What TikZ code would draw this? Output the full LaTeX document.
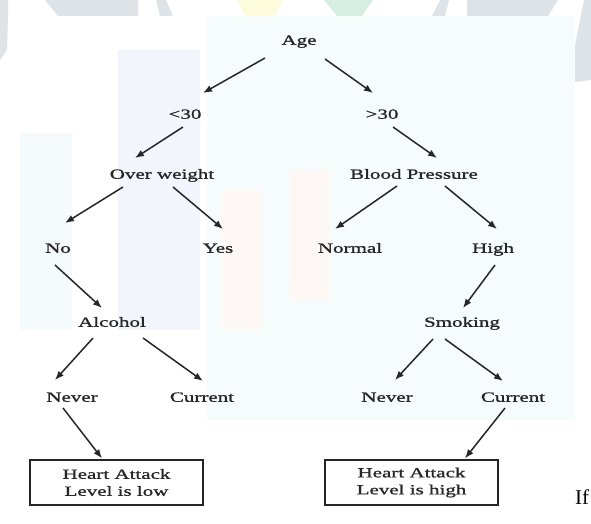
\documentclass[tikz,border=0pt]{standalone}
\usepackage{fontspec}
\setmainfont{Liberation Serif}[FakeStretch=1.5,FakeBold=1.2]
\newfontfamily\plainfont{Liberation Serif}
\usetikzlibrary{arrows.meta}
\definecolor{ink}{HTML}{262626}
\definecolor{wmgray}{HTML}{DDE3E6}
\definecolor{wmyellow}{HTML}{FCFCDC}
\definecolor{wmgreen}{HTML}{D6EEE2}
\definecolor{wmcyan}{HTML}{F6FCFC}
\definecolor{wmlav}{HTML}{F3F5FC}
\definecolor{wmpink}{HTML}{FDF7F6}
\tikzset{
  lbl/.style={inner sep=0pt, text height=9.5pt, text depth=0pt, text=ink,
    font=\fontsize{14}{17}\selectfont},
  arr/.style={draw=ink, line width=1.5pt, -{Latex[length=9pt,width=7pt]}},
  outcome/.style={draw=ink, line width=1.2pt, minimum width=173pt, minimum height=45pt,
    inner sep=0pt, align=center, text=ink, font=\fontsize{14}{17}\selectfont}
}
\begin{document}
\begin{tikzpicture}[x=1pt,y=-1pt]
\useasboundingbox (0,0) rectangle (591,524);
% faint watermark background
\fill[wmcyan] (207,16) rectangle (575,420);
\fill[wmlav] (118,50) rectangle (200,330);
\fill[wmcyan!70!wmlav] (20,133) rectangle (72,330);
\fill[wmpink] (222,190) rectangle (262,330);
\fill[wmpink] (290,170) rectangle (330,300);
\fill[wmgray] (45,0) -- (138,0) -- (138,16) -- (58,16) -- cycle;
\fill[wmgray] (156,0) -- (166,0) -- (173,16) -- (160,16) -- cycle;
\fill[wmyellow] (237,0) -- (283,0) -- (275,16) -- (245,16) -- cycle;
\fill[wmgreen] (324,0) -- (373,0) -- (362,16) -- (337,16) -- cycle;
\fill[wmgray] (440,0) -- (449,0) -- (445,16) -- (432,16) -- cycle;
\fill[wmgray] (467,0) -- (558,0) -- (548,16) -- (467,16) -- cycle;
\fill[wmgray] (0,0) -- (8,0) -- (8,16) -- (7,50) -- (0,60) -- cycle;
\fill[wmgray] (584,0) -- (591,0) -- (591,80) -- (575,82) -- (575,45) -- cycle;

% nodes
\node[lbl] (age) at (299,40) {Age};
\node[lbl] (lt) at (185,114) {<30};
\node[lbl] (gt) at (382,114) {>30};
\node[lbl] (ow) at (162,174) {Over weight};
\node[lbl] (bp) at (414,174) {Blood Pressure};
\node[lbl] (no) at (58,248) {No};
\node[lbl] (yes) at (218,248) {Yes};
\node[lbl] (normal) at (350,248) {Normal};
\node[lbl] (high) at (493,248) {High};
\node[lbl] (alc) at (112,322) {Alcohol};
\node[lbl] (smk) at (462,322) {Smoking};
\node[lbl] (nevl) at (72,397) {Never};
\node[lbl] (curl) at (202,397) {Current};
\node[lbl] (nevr) at (387,397) {Never};
\node[lbl] (curr) at (513,397) {Current};
\node[outcome] (boxl) at (116.5,482.5) {Heart Attack\\Level is low};
\node[outcome] (boxr) at (411.5,482.5) {Heart Attack\\Level is high};
\node[inner sep=0pt, anchor=base west, font=\plainfont\fontsize{21}{24}\selectfont] (iff) at (575,504) {If};

% connectors
\draw[arr] ([shift={(-34,18)}]age.center) -- ([shift={(18,-21)}]lt.center);
\draw[arr] ([shift={(26,19)}]age.center) -- ([shift={(-9,-21)}]gt.center);
\draw[arr] ([shift={(-2,13)}]lt.center) -- ([shift={(-27,-16)}]ow.center);
\draw[arr] ([shift={(11,13)}]gt.center) -- ([shift={(23,-16)}]bp.center);
\draw[arr] ([shift={(-39,13)}]ow.center) -- ([shift={(7,-25)}]no.center);
\draw[arr] ([shift={(11,13)}]ow.center) -- ([shift={(5,-19)}]yes.center);
\draw[arr] ([shift={(-17,12)}]bp.center) -- ([shift={(-15,-19)}]normal.center);
\draw[arr] ([shift={(31,12)}]bp.center) -- ([shift={(4,-19)}]high.center);
\draw[arr] ([shift={(-3,17)}]no.center) -- ([shift={(-10,-14)}]alc.center);
\draw[arr] ([shift={(2,17)}]high.center) -- ([shift={(1,-14)}]smk.center);
\draw[arr] ([shift={(-19,16)}]alc.center) -- ([shift={(-17,-17)}]nevl.center);
\draw[arr] ([shift={(31,16)}]alc.center) -- ([shift={(1,-16)}]curl.center);
\draw[arr] ([shift={(-29,17)}]smk.center) -- ([shift={(8,-17)}]nevr.center);
\draw[arr] ([shift={(-17,17)}]smk.center) -- ([shift={(-10,-16)}]curr.center);
\draw[arr] ([shift={(-9,11)}]nevl.center) -- ([shift={(-14.5,-1)}]boxl.north);
\draw[arr] ([shift={(-8,11)}]curr.center) -- ([shift={(53.5,-1)}]boxr.north);
\end{tikzpicture}
\end{document}
